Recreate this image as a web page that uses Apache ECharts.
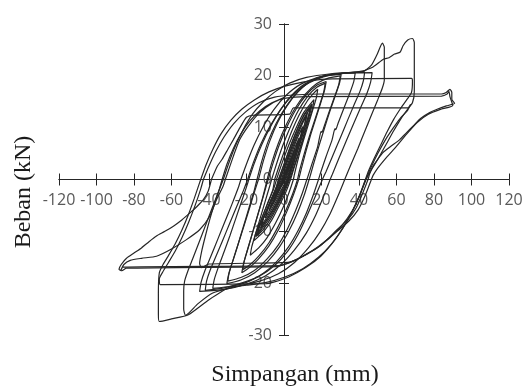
<!DOCTYPE html>
<html>
<head>
<meta charset="utf-8">
<script src="https://cdn.jsdelivr.net/npm/echarts@6/dist/echarts.min.js"></script>
<style>
  html, body { margin: 0; padding: 0; background: #fff; }
  #chart { width: 529px; height: 387px; }
</style>
</head>
<body>
<div id="chart"></div>
<script>
// tick labels
var xTicks = [-120, -100, -80, -60, -40, -20, 0, 20, 40, 60, 80, 100, 120];
var yTicks = [-30, -20, -10, 0, 10, 20, 30];

// hysteresis cycles, [simpangan mm, beban kN]
var cyc04 = [[-0.4,0],[1.5,1.8],[3,3.1],[4,4],[3,2.8],[1.5,1.2],[0.4,0],[-1.5,-1.2],[-3,-2.3],[-4,-3],[-3,-2],[-1.5,-0.9],[-0.4,0]];
var cyc06 = [[-0.4,0],[1.5,2],[3.5,3.8],[6,6],[5,4.8],[3,2.6],[1,0.6],[0.5,0],[-1.5,-1.3],[-3.5,-2.7],[-6,-4.5],[-5,-3.4],[-3,-1.9],[-1,-0.5],[-0.6,0]];
var cyc08 = [[-0.6,0],[1.5,2.1],[4,4.4],[6,6.3],[8,8],[7,6.6],[5,4.5],[3,2.3],[1.2,0.3],[0.8,0],[-1.5,-1.4],[-4,-3.2],[-6,-4.6],[-8,-6],[-7,-4.9],[-5,-3.1],[-3,-1.6],[-1.2,-0.2],[-1,0]];
var cyc10 = [[-1,0],[1.5,2.5],[4,5],[7,7.9],[10,10.2],[9,8.6],[7,6.3],[5,4],[3,1.8],[1.4,0],[-1,-1.7],[-4,-3.6],[-7,-5.5],[-10,-7.4],[-9,-6.2],[-7,-4.4],[-4.5,-2.4],[-2,-0.5],[-1.4,0]];
var cyc12a = [[-1.4,0],[1,2.6],[4,5.6],[7.5,8.8],[10,10.9],[12,12.3],[11,10.7],[9,8.3],[6.5,5.4],[4,2.6],[2,0.3],[1.8,0],[-1,-2],[-4,-4.1],[-8,-6.6],[-12,-8.9],[-11,-7.6],[-8.5,-5.3],[-5.5,-2.9],[-2.5,-0.6],[-2,0]];
var cyc12b = [[-2,0],[0.5,2.7],[3.5,5.7],[7,8.9],[10,11.2],[12.5,12.8],[11.5,11.2],[9.4,8.8],[7,5.9],[4.6,3.1],[2.6,0.6],[2.2,0],[-0.6,-2.1],[-3.8,-4.4],[-7.8,-6.9],[-12.5,-9.4],[-11.5,-8],[-9,-5.7],[-6,-3.2],[-3,-0.8],[-2.4,0]];
var cyc14a = [[-2.4,0],[1,3.1],[4.5,6.6],[8,9.7],[11,12],[14,13.8],[13,12.2],[10.5,9.4],[8,6.5],[5.5,3.6],[3,0.8],[2.4,0],[-0.5,-2.3],[-4,-4.8],[-8,-7.2],[-14,-10.3],[-13,-9],[-10,-6.6],[-7,-4],[-4,-1.4],[-2.8,0]];
var cyc14b = [[-2.8,0],[0.4,3.2],[4,6.8],[7.6,10],[10.8,12.4],[14.4,14.2],[13.4,12.6],[11,9.8],[8.4,6.8],[5.8,3.8],[3.4,1],[2.6,0],[-0.2,-2.4],[-3.8,-5],[-8,-7.6],[-14.4,-10.8],[-13.4,-9.4],[-10.4,-7],[-7.2,-4.3],[-4.2,-1.6],[-3,0]];
var cyc15 = [[-3,0],[0,3],[3.5,6.5],[7,9.7],[11,12.7],[15,14.6],[14,12.9],[12,10.4],[9.5,7.3],[7,4.4],[4.5,1.6],[3,0],[0.5,-2.2],[-3,-4.8],[-7,-7.5],[-11,-9.6],[-15,-11],[-14,-9.6],[-11.5,-7.2],[-8.5,-4.5],[-5.5,-1.8],[-4,0]];
var cyc16 = [[-4,0],[-1,3.2],[2.5,6.6],[6.5,10],[10.5,12.9],[16,15.4],[15,13.4],[12.5,10.6],[10,7.5],[7.5,4.6],[5,1.8],[3.5,0],[1,-2.4],[-2.5,-5],[-6.5,-7.8],[-10.5,-9.9],[-16,-11.8],[-15,-10.3],[-12,-7.6],[-9,-4.8],[-6,-2],[-5,0]];
var cyc18 = [[-5,0],[-2.6,2.6],[0.5,5.8],[4,9.2],[8,12.4],[12.5,15.2],[16,16.7],[18,17.4],[17.2,15.7],[15.3,13.4],[12.8,10.4],[10.2,7.3],[7.6,4],[5.5,0.9],[5,0],[2.6,-2.6],[-0.5,-5.4],[-4.5,-8.4],[-9,-11.2],[-13.5,-13.2],[-18,-14.6],[-17.2,-13],[-15.3,-10.6],[-12.8,-7.6],[-10.2,-4.4],[-7.8,-1.5],[-6.6,0]];
var cyc22a = [[-6.6,0],[-4,3],[-0.8,6.4],[3,9.8],[7.5,13.2],[12.5,16],[17.5,17.8],[22,18.6],[21.2,16.9],[19.2,14.6],[16.5,11.6],[13.6,8.4],[10.8,5],[8.2,1.6],[7.2,0],[4.6,-2.8],[1.2,-5.8],[-3,-9],[-8,-12.2],[-13.5,-14.8],[-18,-16.4],[-22,-17.4],[-21.2,-15.7],[-19.2,-13.2],[-16.6,-10],[-13.8,-6.6],[-11,-3.2],[-8.8,-0.4],[-8.4,0]];
var cyc22b = [[-8.4,0],[-5.8,3.2],[-2.4,6.8],[1.6,10.2],[6.5,13.6],[12,16.4],[17.5,18.2],[22.5,18.9],[21.6,17.2],[19.6,14.8],[17,11.8],[14.2,8.6],[11.6,5.3],[9.2,2],[7.8,0],[5,-3],[1.5,-6.2],[-2.8,-9.6],[-8,-12.8],[-13.8,-15.4],[-18.5,-17],[-22.5,-18],[-21.6,-16.3],[-19.6,-13.8],[-17,-10.6],[-14.3,-7.2],[-11.6,-3.8],[-9.5,-0.8],[-9,0]];
var cyc30a = [[-9,0],[-6.4,3.4],[-3,7],[1,10.4],[6,13.8],[11.5,16.5],[17.5,18.5],[24,19.6],[30,20],[29.2,18.3],[27,16],[24,13],[21,9.8],[20.2,9.1],[19.8,9.3],[18,6.4],[15,3.1],[12.6,0.4],[12.2,0],[9.6,-2.8],[6.2,-6],[2,-9.4],[-3,-12.6],[-9,-15.3],[-16,-17.6],[-23,-18.9],[-30,-19.6],[-29.2,-17.9],[-27,-15.4],[-24.2,-12.2],[-21.2,-8.8],[-18.2,-5.3],[-15.4,-2],[-13.6,0]];
var cyc30b = [[-13.6,0],[-11,3.6],[-7.6,7.4],[-3.4,11],[1.6,14.2],[7.5,16.9],[14,18.9],[21.5,20],[30.5,20.3],[29.6,18.6],[27.4,16.2],[24.5,13.2],[21.5,9.8],[18.5,6.3],[15.6,2.8],[13.6,0.2],[13.4,0],[10.8,-3],[7.2,-6.4],[2.8,-9.8],[-2.4,-13],[-8.6,-15.8],[-15.6,-18],[-23,-19.4],[-30.5,-20.1],[-29.6,-18.4],[-27.4,-15.8],[-24.6,-12.6],[-21.6,-9],[-18.6,-5.4],[-15.8,-2],[-14.4,0]];
var cyc38 = [[-14.4,0],[-11.8,3.6],[-8.4,7.4],[-4.2,10.8],[1,14],[7,16.8],[14,18.9],[22,20.1],[30,20.5],[38,20.6],[37.2,18.9],[35,16.6],[32,13.8],[28.8,10.8],[27.6,9.6],[27.2,9.8],[25.6,7.6],[22.4,4.4],[19.6,1.4],[18.4,0],[15.6,-3],[12,-6.4],[7.6,-9.8],[2.4,-13],[-3.8,-15.8],[-11,-18.1],[-19,-19.7],[-28,-20.6],[-38,-21],[-37.2,-19.3],[-35,-16.9],[-32,-14],[-28.8,-10.8],[-25.6,-7.4],[-22.4,-4],[-19.6,-1],[-18.8,0]];
var cyc43 = [[-18.8,0],[-16,3],[-12,6.6],[-7.5,10],[-2,13.4],[4,16.2],[11,18.4],[20,19.8],[31,20.5],[43,20.7],[42.3,19],[40.5,17],[37.5,14.5],[34,11.5],[30,8],[26,4.6],[22.5,1.6],[20.5,0],[17,-3],[12.5,-6.8],[7.5,-10.6],[2,-13.8],[-5,-16.6],[-13,-18.6],[-22,-19.9],[-32,-20.9],[-42,-21.4],[-41.3,-19.6],[-39.5,-17.6],[-36.5,-15],[-33,-12],[-29,-8.5],[-25,-5],[-21.5,-2],[-19.4,0]];
var cyc47 = [[-19.4,0],[-16.4,3.2],[-12.4,6.8],[-7.6,10.2],[-2,13.4],[4.4,16.2],[12,18.4],[21,19.8],[33,20.5],[47,20.6],[46.2,18.8],[44.2,16.6],[41,14],[37.4,11],[33.4,7.6],[29.4,4.2],[25.8,1],[24.6,0],[21.4,-3],[17,-6.8],[11.8,-10.4],[5.6,-13.6],[-1.6,-16.4],[-10,-18.6],[-20,-20.2],[-32,-21.2],[-45,-21.6],[-44.2,-19.8],[-42.2,-17.6],[-39,-14.8],[-35.4,-11.6],[-31.6,-8.2],[-27.8,-4.8],[-24.4,-1.6],[-23,0]];
var cyc53 = [[-23,0],[-20,3],[-16,6.6],[-11.4,10],[-5.6,13.4],[1,16.2],[9,18.4],[19,19.8],[31,20.5],[42,20.8],[46.5,22],[49.5,24],[52.5,26.3],[53.5,25.5],[53.5,22],[53.5,19.2],[52.4,17.6],[50,15.4],[46.8,12.6],[43.2,9.4],[39.4,6],[35.6,2.8],[32.6,0.2],[32.4,0],[29,-3],[24.6,-6.6],[19.4,-10],[13,-13.2],[5.6,-16],[-3,-18.2],[-13,-19.6],[-25,-20.6],[-38,-21.9],[-46,-24],[-52.5,-26.2],[-53.5,-25],[-53.5,-21.5],[-53,-19.6],[-51.4,-17.8],[-48.8,-15.4],[-45.6,-12.4],[-42,-9],[-38.4,-5.6],[-35,-2.4],[-32.4,0]];
var cyc68a = [[-32.4,0],[-29.6,3],[-26,6.4],[-21.8,9.6],[-16.8,12.6],[-11,15],[-4.5,17],[3,18.6],[12,19.7],[25,20.4],[40,20.8],[47,21.6],[53,23.2],[56,23.5],[59,24.2],[62,24.6],[63.5,25.8],[66,26.9],[68.5,27.2],[69.5,26.4],[69.5,22],[69.5,17],[68.5,14.8],[66,13.6],[62.5,11.8],[58.5,9.4],[54.5,6.8],[50.5,4.2],[46.5,1.8],[44,0.2],[43.6,0],[40.4,-3],[36.4,-6.2],[31.4,-9.4],[25.4,-12.4],[18.4,-15],[10,-17.2],[0.5,-18.8],[-10,-19.9],[-20,-20.4],[-29,-20.8],[-40,-23.2],[-51,-26.1],[-60,-26.9],[-66.5,-27.4],[-67,-26],[-67,-22],[-66.5,-18],[-64.5,-16.4],[-61.5,-14.6],[-58,-12.4],[-54.5,-9.8],[-51,-6.8],[-47.8,-3.6],[-45,-0.6],[-44.4,0]];
var cyc68b = [[-44.4,0],[-41.6,2.8],[-38,5.8],[-33.6,8.8],[-28.4,11.4],[-22.4,13.6],[-15.6,15.4],[-8,16.9],[0.5,18],[10,18.8],[20,19.3],[26,19.4],[68,19.5],[68.5,19],[68,16.8],[65.5,15.4],[62,13.6],[58.5,11.6],[55,9.2],[51.5,6.6],[48,4],[45,1.6],[43.4,0],[40.4,-3],[36.6,-6],[32,-9],[26.4,-12],[19.6,-14.8],[11.6,-17],[2.5,-18.8],[-5.5,-19.8],[-9.5,-20.1],[-66,-20.3],[-66.5,-19.2],[-64.6,-17.8],[-61.6,-16],[-58,-13.8],[-54.4,-11.2],[-50.8,-8.2],[-47.4,-5],[-44.4,-1.8],[-43,0]];
var cyc88a = [[-43,0],[-40,2.6],[-36.4,5.4],[-32,8.2],[-26.8,10.8],[-20.6,13],[-13.4,14.8],[-5,15.9],[5,16.3],[20,16.5],[84,16.5],[86.5,16.8],[88.5,17.4],[89.5,16.8],[89.5,15.5],[91,14.7],[86.6,14.2],[82,13.6],[77.7,12.9],[73,11.8],[68.8,10.3],[65,8.9],[61.7,7.7],[57,6.4],[52.8,5.2],[49.8,3.8],[47.5,2.6],[45.6,1],[44.8,0],[42,-2.6],[38.6,-5.4],[34.4,-7.6],[28,-9.8],[19,-12.9],[12,-14.4],[6,-15.6],[0,-16.4],[-4,-16.8],[-84,-17.1],[-86.5,-17.6],[-88,-17.3],[-86.8,-16.4],[-84,-15.2],[-80,-14.2],[-76,-13.2],[-72,-12],[-68,-10.9],[-63.5,-10],[-59,-9],[-54.5,-7.8],[-50,-6.4],[-46.4,-5.2],[-43,-3.9],[-40.4,-2.2],[-38.7,0]];
var cyc66 = [[-38.7,0],[-35.5,2.6],[-33,3.9],[-30,5.8],[-27,7.7],[-23.5,10],[-20,12],[-16.5,12.4],[3,12.6],[5,13.8],[66,13.8],[67.5,14.5],[66,13.4],[62,11.8],[58,9.8],[54,7.6],[50,5],[46.5,2.4],[44,0.3],[43.7,0],[40.5,-3],[36.5,-6],[31,-8.8],[24,-11.4],[16,-13.6],[8,-15.2],[2,-16],[-40,-16.3],[-44,-17],[-45,-16.2],[-44,-14],[-42,-11],[-39.5,-7.6],[-37,-4.6],[-34.6,-2],[-33,0]];
var cyc88b = [[-33,0],[-30.4,3],[-27,6],[-23,8.8],[-18.4,11.2],[-13,13.2],[-6.5,14.8],[1,15.7],[12,16],[84,16.1],[87,16.5],[88,17],[88.5,16],[90,14.3],[84,13.6],[77,12.6],[71,11],[65,8.6],[59,6],[54,4],[50,2.2],[47.5,0.8],[46.6,0],[43.4,-3],[39.6,-5.8],[34.6,-8],[27,-10.4],[18,-13],[10,-14.8],[3,-16],[-2,-16.6],[-86,-16.9],[-87,-17.5],[-85.4,-16.4],[-82,-15.6],[-76,-15.2],[-68,-14.8],[-60,-13.4],[-52,-11.6],[-45,-9.7],[-39.6,-7.1],[-36,-3.9],[-32.5,-1.3],[-31.3,0],[-27,4.5],[-23.6,7.7],[-19,10.3],[-13,12.9],[-5.9,14.8],[0,15.8]];

var cycles = [cyc04, cyc06, cyc08, cyc10, cyc12a, cyc12b, cyc14a, cyc14b, cyc15, cyc16, cyc18,
  cyc22a, cyc22b, cyc30a, cyc30b, cyc38, cyc43, cyc47, cyc53, cyc68a, cyc68b, cyc88a, cyc66, cyc88b];

var chart = echarts.init(document.getElementById('chart'));

var axisColor = '#262626';
var labelFont = { color: '#595959', fontSize: 16, fontFamily: 'Open Sans' };

// axes drawn in helper grids whose edge lies on the zero line
function xAxisDef(grid, inside) {
  return {
    type: 'value', gridIndex: grid, position: 'bottom',
    min: xTicks[0], max: xTicks[xTicks.length - 1], interval: 20,
    axisLine: { onZero: false, lineStyle: { color: axisColor, width: 1 } },
    axisTick: { show: true, inside: inside, length: 6, lineStyle: { color: axisColor, width: 1 } },
    axisLabel: Object.assign({ show: !inside, margin: 13 }, labelFont),
    splitLine: { show: false }
  };
}
function yAxisDef(grid, inside) {
  return {
    type: 'value', gridIndex: grid, position: 'left',
    min: yTicks[0], max: yTicks[yTicks.length - 1], interval: 10,
    axisLine: { onZero: false, lineStyle: { color: axisColor, width: 1 } },
    axisTick: { show: true, inside: inside, length: 5, lineStyle: { color: axisColor, width: 1 } },
    axisLabel: Object.assign({ show: !inside, margin: 12 }, labelFont),
    splitLine: { show: false }
  };
}
function hidden(grid, lo, hi) {
  return { type: 'value', gridIndex: grid, min: lo, max: hi, show: false };
}

var option = {
  animation: false,
  grid: [
    { left: 59, right: 20, top: 24, bottom: 52 },
    { left: 59, right: 20, top: 24, height: 155.5 },
    { left: 284, width: 225, top: 24, bottom: 52 }
  ],
  xAxis: [
    hidden(0, xTicks[0], xTicks[xTicks.length - 1]),
    xAxisDef(1, false),
    xAxisDef(1, true),
    hidden(2, 0, 1)
  ],
  yAxis: [
    hidden(0, yTicks[0], yTicks[yTicks.length - 1]),
    hidden(1, 0, 1),
    yAxisDef(2, false),
    yAxisDef(2, true)
  ],
  graphic: [
    {
      type: 'text', x: 24, y: 192, rotation: Math.PI / 2,
      style: { text: 'Beban (kN)', font: '24px "Liberation Serif"', fill: '#1a1a1a', textAlign: 'center', textVerticalAlign: 'middle' }
    },
    {
      type: 'text', x: 295, y: 375,
      style: { text: 'Simpangan (mm)', font: '24px "Liberation Serif"', fill: '#1a1a1a', textAlign: 'center', textVerticalAlign: 'middle' }
    }
  ],
  series: cycles.map(function (c) {
    return {
      type: 'line',
      xAxisIndex: 0,
      yAxisIndex: 0,
      data: c,
      showSymbol: false,
      smooth: 0.2,
      silent: true,
      z: 5,
      lineStyle: { color: '#262626', width: 1.2 }
    };
  })
};

chart.setOption(option);
</script>
</body>
</html>
